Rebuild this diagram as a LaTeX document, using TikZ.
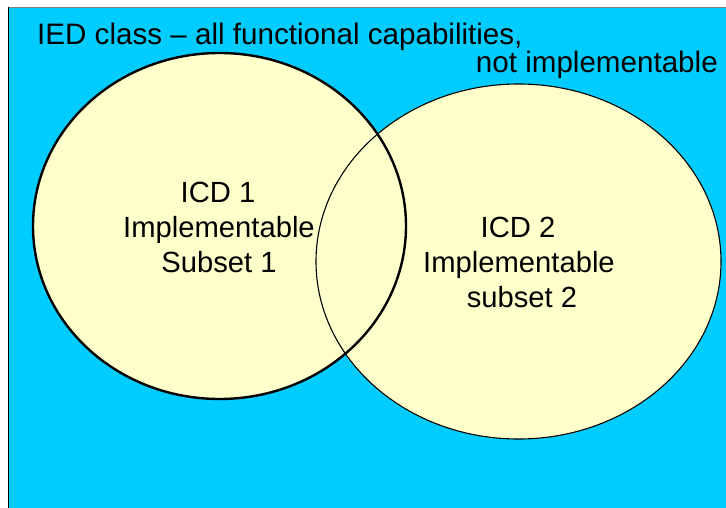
\documentclass[tikz,border=0pt]{standalone}
\usepackage{fontspec}
\setmainfont{Liberation Sans}
\definecolor{bgblue}{HTML}{00CCFF}
\definecolor{venn}{HTML}{FFFFCC}
\begin{document}
\begin{tikzpicture}[x=1pt,y=-1pt,
  toptext/.style={font=\fontsize{29.6}{34}\selectfont, inner sep=0pt},
  settext/.style={font=\fontsize{29.2}{34}\selectfont, inner sep=0pt, anchor=base}]
\useasboundingbox (0,0) rectangle (726,508);
\fill[white] (0,0) rectangle (726,508);
\fill[bgblue] (8,7) rectangle (726,508);
\draw[gray, line width=1pt] (8,7.3) -- (726,7.3);
\draw[black, line width=1.6pt] (8.3,7) -- (8.3,508);
% fills
\fill[venn] (219.5,226) ellipse [x radius=186.5, y radius=173];
\fill[venn] (518.5,261.5) ellipse [x radius=202.5, y radius=177.5];
% outlines
\draw[line width=2.4pt] (219.5,226) ellipse [x radius=186.5, y radius=173];
\draw[line width=1.1pt] (518.5,261.5) ellipse [x radius=202.5, y radius=177.5];
% texts
\node[toptext, anchor=base west] (t1) at (37,45) {IED class – all functional capabilities,};
\node[toptext, anchor=base east] (t2) at (718,73) {not implementable};
\node[settext] (a1) at (218,202) {ICD 1};
\node[settext] (a2) at (219,237) {Implementable};
\node[settext] (a3) at (219,272) {Subset 1};
\node[settext] (b1) at (518,237) {ICD 2};
\node[settext] (b2) at (519,272) {Implementable};
\node[settext] (b3) at (522,307) {subset 2};
\end{tikzpicture}
\end{document}
